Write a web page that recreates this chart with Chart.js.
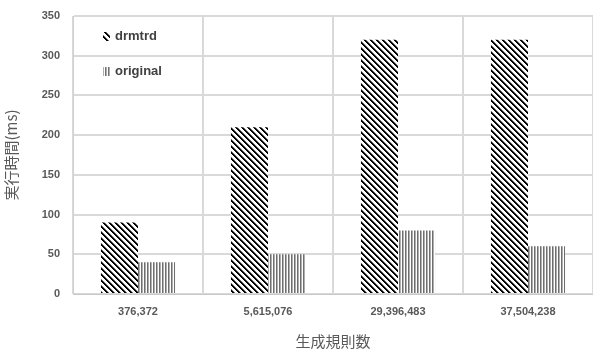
<!DOCTYPE html>
<html><head><meta charset="utf-8">
<script src="https://cdn.jsdelivr.net/npm/chart.js@4/dist/chart.umd.min.js"></script>
<style>html,body{margin:0;padding:0;background:#fff;overflow:hidden}#wrap{width:593px;height:354px}</style>
</head><body><div id="wrap"><canvas id="c"></canvas></div>
<script>
const categories = ['376,372', '5,615,076', '29,396,483', '37,504,238'];
const drmtrdValues = [90, 210, 320, 320];
const originalValues = [40, 50, 80, 60];
const seriesNames = ['drmtrd', 'original'];
const yTicks = [0, 50, 100, 150, 200, 250, 300, 350];
const xTitle = '生成規則数';
const yTitle = '実行時間(ms)';

function makePattern(kind) {
  const c = document.createElement('canvas');
  const ctx = c.getContext('2d');
  if (kind === 'diag') {
    const n = 6; c.width = n; c.height = n;
    const img = ctx.createImageData(n, n);
    for (let y = 0; y < n; y++) for (let x = 0; x < n; x++) {
      const d = ((x - y) % n + n) % n;
      let v = 255;
      if (d === 0 || d === 1) v = 0; else if (d === 2) v = 120;
      const i = (y * n + x) * 4;
      img.data[i] = img.data[i+1] = img.data[i+2] = v; img.data[i+3] = 255;
    }
    ctx.putImageData(img, 0, 0);
  } else {
    c.width = 3; c.height = 1;
    const img = ctx.createImageData(3, 1);
    const vals = [110, 175, 255];
    for (let x = 0; x < 3; x++) {
      const i = x * 4;
      img.data[i] = img.data[i+1] = img.data[i+2] = vals[x]; img.data[i+3] = 255;
    }
    ctx.putImageData(img, 0, 0);
  }
  return document.getElementById('c').getContext('2d').createPattern(c, 'repeat');
}
const diagPattern = makePattern('diag');
const vertPattern = makePattern('vert');

const legendPlugin = {
  id: 'innerLegend',
  afterDraw(chart) {
    const ctx = chart.ctx;
    const rows = [36, 71];
    ctx.save();
    chart.data.datasets.forEach((ds, i) => {
      const y = rows[i];
      ctx.fillStyle = ds.backgroundColor;
      ctx.fillRect(103, y - 4, 7, 9);
      ctx.fillStyle = '#404040';
      ctx.font = 'bold 13px "Liberation Sans", Arial, sans-serif';
      ctx.textBaseline = 'middle';
      ctx.textAlign = 'left';
      ctx.fillText(ds.label, 115, y);
    });
    ctx.restore();
  }
};

new Chart(document.getElementById('c'), {
  type: 'bar',
  data: {
    labels: categories,
    datasets: [
      { label: seriesNames[0], data: drmtrdValues, backgroundColor: diagPattern, borderWidth: 0 },
      { label: seriesNames[1], data: originalValues, backgroundColor: vertPattern, borderWidth: 0 }
    ]
  },
  options: {
    responsive: true,
    maintainAspectRatio: false,
    animation: false,
    layout: { padding: { top: 16, right: 0, left: 0, bottom: 0 } },
    datasets: { bar: { categoryPercentage: 0.57, barPercentage: 1.0 } },
    plugins: { legend: { display: false }, tooltip: { enabled: false } },
    scales: {
      x: {
        grid: { display: true, offset: true, color: '#d9d9d9', lineWidth: 2, drawTicks: false },
        border: { display: true, color: '#c8c8c8', width: 1 },
        ticks: { color: '#595959', font: { family: '"Liberation Sans", Arial, sans-serif', size: 11, weight: 'bold' }, padding: 11, maxRotation: 0 },
        title: { display: true, text: xTitle, color: '#595959', font: { family: '"Noto Sans CJK JP", sans-serif', size: 15 }, padding: { top: 4, bottom: 4 } },
        afterFit(scale) { scale.height = 60; scale.paddingLeft = 0; scale.paddingRight = 0; }
      },
      y: {
        min: 0, max: 350,
        afterBuildTicks(scale) { scale.ticks = yTicks.map(v => ({ value: v })); },
        grid: { color: '#d9d9d9', lineWidth: 2, drawTicks: false },
        border: { display: true, color: '#d0d0d0', width: 1 },
        ticks: { color: '#595959', font: { family: '"Liberation Sans", Arial, sans-serif', size: 11, weight: 'bold' }, padding: 13 },
        title: { display: true, text: yTitle, color: '#595959', font: { family: '"Noto Sans CJK JP", sans-serif', size: 15 }, padding: { top: 2, bottom: 4 } },
        afterFit(scale) { scale.width = 73; scale.paddingTop = 0; scale.paddingBottom = 0; }
      }
    }
  },
  plugins: [legendPlugin]
});
</script></body></html>
